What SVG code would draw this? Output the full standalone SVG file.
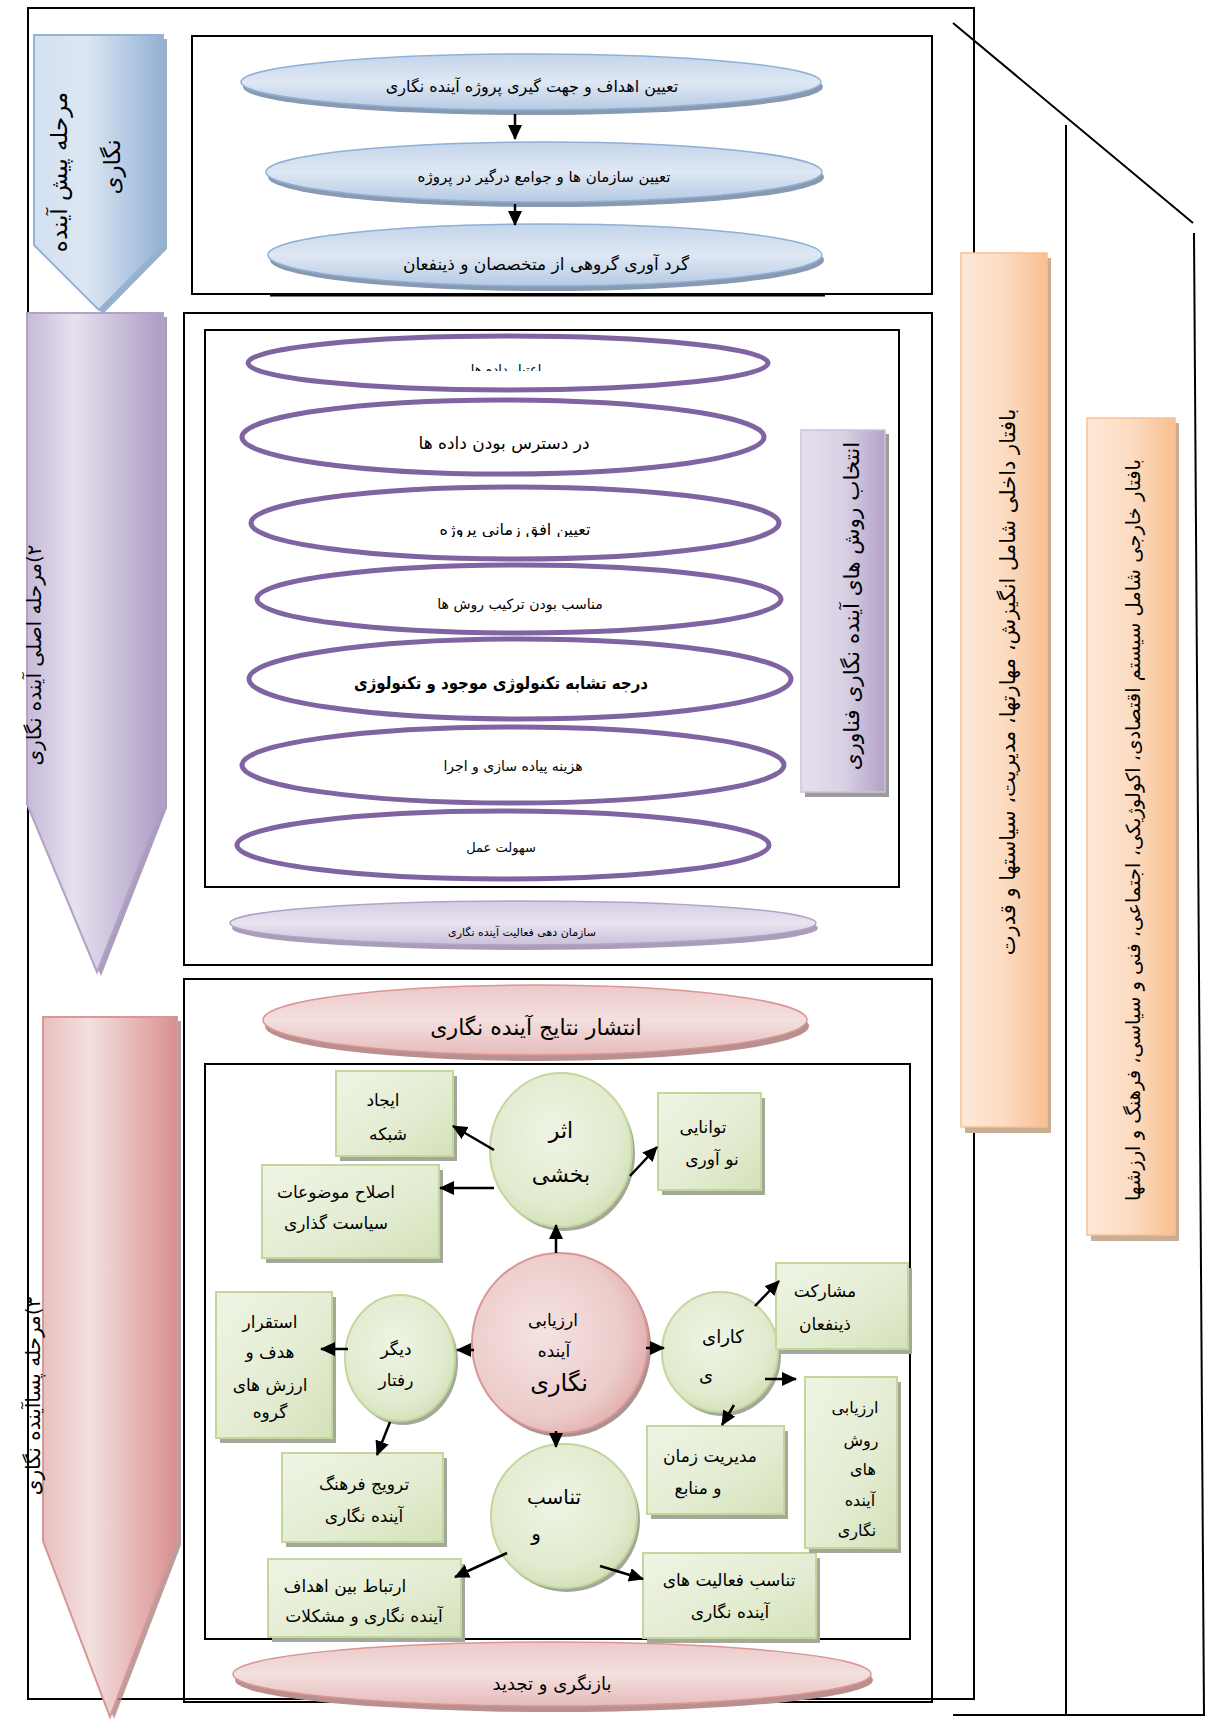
<svg xmlns="http://www.w3.org/2000/svg" width="1208" height="1719" viewBox="0 0 1208 1719">
<defs>
  <linearGradient id="gBlueArrow" x1="0" y1="0" x2="1" y2="0">
    <stop offset="0" stop-color="#d3e0f0"/><stop offset="0.4" stop-color="#dde7f3"/><stop offset="1" stop-color="#93b1d6"/>
  </linearGradient>
  <linearGradient id="gPurpleArrow" x1="0" y1="0" x2="1" y2="0">
    <stop offset="0" stop-color="#c6bad8"/><stop offset="0.35" stop-color="#e6e1ee"/><stop offset="1" stop-color="#ad9cc6"/>
  </linearGradient>
  <linearGradient id="gPinkArrow" x1="0" y1="0" x2="1" y2="0">
    <stop offset="0" stop-color="#e7c0bf"/><stop offset="0.35" stop-color="#f3e0df"/><stop offset="1" stop-color="#d8908e"/>
  </linearGradient>
  <linearGradient id="gBlueEll" x1="0" y1="0" x2="0" y2="1">
    <stop offset="0" stop-color="#c3d4ea"/><stop offset="0.5" stop-color="#dfe8f4"/><stop offset="1" stop-color="#b6cae3"/>
  </linearGradient>
  <linearGradient id="gPurpleEll" x1="0" y1="0" x2="0" y2="1">
    <stop offset="0" stop-color="#d5cce3"/><stop offset="0.5" stop-color="#e8e4ef"/><stop offset="1" stop-color="#cbc0da"/>
  </linearGradient>
  <linearGradient id="gPinkEll" x1="0" y1="0" x2="0" y2="1">
    <stop offset="0" stop-color="#ecc9c8"/><stop offset="0.5" stop-color="#f3e0df"/><stop offset="1" stop-color="#e6bbba"/>
  </linearGradient>
  <linearGradient id="gGreenBox" x1="0" y1="0" x2="1" y2="1">
    <stop offset="0" stop-color="#eef4e4"/><stop offset="0.55" stop-color="#e4edd3"/><stop offset="1" stop-color="#d3e1b8"/>
  </linearGradient>
  <radialGradient id="gGreenCirc" cx="0.45" cy="0.4" r="0.65">
    <stop offset="0" stop-color="#eef4e4"/><stop offset="0.7" stop-color="#e2ebcf"/><stop offset="1" stop-color="#d0dfb3"/>
  </radialGradient>
  <radialGradient id="gPinkCirc" cx="0.4" cy="0.45" r="0.65">
    <stop offset="0" stop-color="#f4e3e2"/><stop offset="0.7" stop-color="#ecccca"/><stop offset="1" stop-color="#e0aaa9"/>
  </radialGradient>
  <linearGradient id="gOrange" x1="0" y1="0" x2="1" y2="0">
    <stop offset="0" stop-color="#fde9d9"/><stop offset="0.5" stop-color="#fcdcc2"/><stop offset="1" stop-color="#f9bf8f"/>
  </linearGradient>
  <linearGradient id="gPurpleBox" x1="0" y1="0" x2="1" y2="0">
    <stop offset="0" stop-color="#e5e0ec"/><stop offset="0.5" stop-color="#d9d1e5"/><stop offset="1" stop-color="#b3a2c7"/>
  </linearGradient>
  <marker id="ah" markerUnits="userSpaceOnUse" markerWidth="15" markerHeight="14" refX="14" refY="7" orient="auto">
    <path d="M0,0 L15,7 L0,14 z" fill="#000"/>
  </marker>
  <clipPath id="clipP1"><rect x="200" y="330" width="700" height="41"/></clipPath>
  <clipPath id="clipP3"><rect x="200" y="500" width="700" height="37"/></clipPath>
</defs>
<style>
  .t{font-family:"DejaVu Sans",sans-serif;fill:#000;text-anchor:middle;direction:rtl}
  .frame{fill:none;stroke:#000;stroke-width:2}
  .line{stroke:#000;stroke-width:2;fill:none}
  .gbox{fill:url(#gGreenBox);stroke:#c3d69b;stroke-width:2}
  .gcirc{fill:url(#gGreenCirc);stroke:#c3d69b;stroke-width:2}
  .gsh{fill:#a3a89a}
  .pell{fill:#fff;stroke:#8064a2;stroke-width:5}
  .bell{fill:url(#gBlueEll);stroke:#8eb0d8;stroke-width:1.5}
  .bsh{fill:#8899b0}
  .orange{fill:url(#gOrange);stroke:#fac090;stroke-width:1.5}
  .osh{fill:#c9ae96}
  .conn{stroke:#000;stroke-width:2.5;fill:none;marker-end:url(#ah)}
</style>

<!-- frames -->
<g id="frames">
  <rect class="frame" x="28" y="8" width="946" height="1691"/>
  <line class="line" x1="28" y1="1081" x2="28" y2="1659" stroke-width="4"/>
  <rect class="frame" x="192" y="36" width="740" height="258"/>
  <line x1="270" y1="295" x2="825" y2="295" stroke="#000" stroke-width="3"/>
  <rect class="frame" x="184" y="313" width="748" height="652"/>
  <rect class="frame" x="205" y="330" width="694" height="557"/>
  <rect class="frame" x="184" y="979" width="748" height="723"/>
  <rect class="frame" x="205" y="1064" width="705" height="575"/>
  <line class="line" x1="1066" y1="125" x2="1066" y2="1715"/>
  <line class="line" x1="953" y1="1715" x2="1205" y2="1715"/>
  <line class="line" x1="1194" y1="233" x2="1204" y2="1715"/>
  <line class="line" x1="953" y1="23" x2="1193" y2="223"/>
</g>

<!-- phase arrows -->
<g id="phase-pre">
  <polygon points="38,39 167,39 167,249 103,314 38,249" fill="#7f9bbd" opacity="0.8"/>
  <polygon points="34,35 163,35 163,245 99,310 34,245" fill="url(#gBlueArrow)" stroke="#95b3d7" stroke-width="2"/>
  <text class="t" font-size="23" transform="translate(59,172) rotate(-90)" dominant-baseline="central">مرحله پیش آینده</text>
  <text class="t" font-size="23" transform="translate(112,167) rotate(-90)" dominant-baseline="central">نگاری</text>
</g>
<g id="phase-main">
  <polygon points="31,317 167,317 167,808 101,976 31,808" fill="#9586ab" opacity="0.8"/>
  <polygon points="27,313 163,313 163,804 97,972 27,804" fill="url(#gPurpleArrow)" stroke="#b3a2c7" stroke-width="2"/>
  <text class="t" font-size="20" transform="translate(34,655) rotate(-90)" dominant-baseline="central">۲)مرحله اصلی  آینده نگاری</text>
</g>
<g id="phase-post">
  <polygon points="47,1021 181,1021 181,1545 114,1719 47,1545" fill="#a98584" opacity="0.8"/>
  <polygon points="43,1017 177,1017 177,1541 110,1717 43,1541" fill="url(#gPinkArrow)" stroke="#d99694" stroke-width="2"/>
  <text class="t" font-size="20" transform="translate(33,1396) rotate(-90)" dominant-baseline="central">۳)مرحله پساآینده نگاری</text>
</g>

<!-- pre-phase ellipses -->
<g id="pre-1">
  <ellipse class="bsh" cx="533" cy="87" rx="290" ry="28"/>
  <ellipse class="bell" cx="531" cy="82" rx="290" ry="28"/>
  <text class="t" font-size="16" x="532" y="92">تعیین اهداف و جهت گیری پروژه آینده نگاری</text>
</g>
<g id="pre-2">
  <ellipse class="bsh" cx="546" cy="177" rx="278" ry="30"/>
  <ellipse class="bell" cx="544" cy="172" rx="278" ry="30"/>
  <text class="t" font-size="15" x="544" y="182">تعیین سازمان ها و جوامع درگیر در پروژه</text>
</g>
<g id="pre-3">
  <ellipse class="bsh" cx="547" cy="260" rx="277" ry="31"/>
  <ellipse class="bell" cx="545" cy="255" rx="277" ry="31"/>
  <text class="t" font-size="17" x="546" y="270">گرد آوری گروهی از متخصصان و ذینفعان</text>
</g>

<!-- main phase ellipses -->
<g id="main-1">
  <ellipse class="pell" cx="508" cy="363" rx="260" ry="27"/>
  <text class="t" font-size="13" x="506" y="374" clip-path="url(#clipP1)">اعتبار داده ها</text>
</g>
<g id="main-2">
  <ellipse class="pell" cx="503" cy="437" rx="261" ry="37"/>
  <text class="t" font-size="17" x="504" y="449">در دسترس بودن داده ها</text>
</g>
<g id="main-3">
  <ellipse class="pell" cx="515" cy="523" rx="264" ry="36"/>
  <text class="t" font-size="16" x="515" y="535" clip-path="url(#clipP3)">تعیین افق زمانی پروژه</text>
</g>
<g id="main-4">
  <ellipse class="pell" cx="519" cy="599" rx="262" ry="34"/>
  <text class="t" font-size="14" x="520" y="609">مناسب بودن ترکیب روش ها</text>
</g>
<g id="main-5">
  <ellipse class="pell" cx="520" cy="679" rx="271" ry="40"/>
  <text class="t" font-size="17" font-weight="bold" x="501" y="689" textLength="294" lengthAdjust="spacingAndGlyphs">درجه تشابه تکنولوژی موجود و تکنولوژی</text>
</g>
<g id="main-6">
  <ellipse class="pell" cx="513" cy="765" rx="271" ry="38"/>
  <text class="t" font-size="14" x="513" y="771">هزینه پیاده سازی و اجرا</text>
</g>
<g id="main-7">
  <ellipse class="pell" cx="503" cy="845" rx="266" ry="34"/>
  <text class="t" font-size="13" x="501" y="852">سهولت عمل</text>
</g>
<g id="main-select">
  <rect x="805" y="434" width="84" height="363" fill="#9c9c9c"/>
  <rect x="801" y="430" width="84" height="362" fill="url(#gPurpleBox)" stroke="#ccc1da" stroke-width="1.5"/>
  <text class="t" font-size="21.5" transform="translate(851,606) rotate(-90)" dominant-baseline="central">انتخاب روش های آینده نگاری فناوری</text>
</g>
<g id="main-organize">
  <ellipse cx="525" cy="928" rx="293" ry="22" fill="#a99db8"/>
  <ellipse cx="523" cy="923" rx="293" ry="22" fill="url(#gPurpleEll)" stroke="#b3a2c7" stroke-width="1.5"/>
  <text class="t" font-size="11" x="522" y="936">سازمان دهی فعالیت آینده نگاری</text>
</g>

<!-- post phase -->
<g id="post-publish">
  <ellipse cx="537" cy="1026" rx="272" ry="35" fill="#b9908f"/>
  <ellipse cx="535" cy="1020" rx="272" ry="35" fill="url(#gPinkEll)" stroke="#d99694" stroke-width="1.5"/>
  <text class="t" font-size="22" x="536" y="1035">انتشار نتایج آینده نگاری</text>
</g>
<g id="post-review">
  <ellipse cx="554" cy="1680" rx="319" ry="32" fill="#b9908f"/>
  <ellipse cx="552" cy="1674" rx="319" ry="32" fill="url(#gPinkEll)" stroke="#d99694" stroke-width="1.5"/>
  <text class="t" font-size="18" x="552" y="1690">بازنگری و تجدید</text>
</g>

<g id="node-effect">
  <ellipse class="gsh" cx="564" cy="1154" rx="71" ry="77"/>
  <ellipse class="gcirc" cx="561" cy="1150" rx="71" ry="77"/>
  <text class="t" font-size="22" x="561" y="1138">اثر</text>
  <text class="t" font-size="22" x="561" y="1182">بخشی</text>
</g>
<g id="node-network">
  <rect class="gsh" x="340" y="1076" width="117" height="85"/>
  <rect class="gbox" x="336" y="1071" width="117" height="85"/>
  <text class="t" font-size="17" x="383" y="1106">ایجاد</text>
  <text class="t" font-size="17" x="388" y="1140">شبکه</text>
</g>
<g id="node-policy">
  <rect class="gsh" x="266" y="1170" width="177" height="93"/>
  <rect class="gbox" x="262" y="1165" width="177" height="93"/>
  <text class="t" font-size="17" x="336" y="1198">اصلاح موضوعات</text>
  <text class="t" font-size="17" x="336" y="1229">سیاست گذاری</text>
</g>
<g id="node-innov">
  <rect class="gsh" x="662" y="1098" width="103" height="97"/>
  <rect class="gbox" x="658" y="1093" width="103" height="97"/>
  <text class="t" font-size="17" x="703" y="1133">توانایی</text>
  <text class="t" font-size="17" x="712" y="1165">نو آوری</text>
</g>
<g id="node-eval">
  <ellipse cx="563" cy="1347" rx="88" ry="90" fill="#a99290"/>
  <ellipse cx="560" cy="1343" rx="88" ry="90" fill="url(#gPinkCirc)" stroke="#d99694" stroke-width="2"/>
  <text class="t" font-size="17" x="553" y="1326">ارزیابی</text>
  <text class="t" font-size="17" x="554" y="1357">آینده</text>
  <text class="t" font-size="24" x="559" y="1391">نگاری</text>
</g>
<g id="node-behavior">
  <ellipse class="gsh" cx="403" cy="1362" rx="55" ry="63"/>
  <ellipse class="gcirc" cx="400" cy="1358" rx="55" ry="63"/>
  <text class="t" font-size="17" x="396" y="1355">دیگر</text>
  <text class="t" font-size="17" x="396" y="1386">رفتار</text>
</g>
<g id="node-goals">
  <rect class="gsh" x="220" y="1297" width="116" height="146"/>
  <rect class="gbox" x="216" y="1292" width="116" height="146"/>
  <text class="t" font-size="17" x="270" y="1328">استقرار</text>
  <text class="t" font-size="17" x="270" y="1358">هدف و</text>
  <text class="t" font-size="17" x="270" y="1391">ارزش های</text>
  <text class="t" font-size="17" x="270" y="1418">گروه</text>
</g>
<g id="node-culture">
  <rect class="gsh" x="286" y="1458" width="161" height="89"/>
  <rect class="gbox" x="282" y="1453" width="161" height="89"/>
  <text class="t" font-size="17" x="364" y="1490">ترویج فرهنگ</text>
  <text class="t" font-size="17" x="364" y="1522">آینده نگاری</text>
</g>
<g id="node-fit">
  <ellipse class="gsh" cx="567" cy="1520" rx="73" ry="72"/>
  <ellipse class="gcirc" cx="564" cy="1516" rx="73" ry="72"/>
  <text class="t" font-size="20" x="554" y="1504">تناسب</text>
  <text class="t" font-size="20" x="536" y="1540">و</text>
</g>
<g id="node-relation">
  <rect class="gsh" x="272" y="1564" width="193" height="78"/>
  <rect class="gbox" x="268" y="1559" width="193" height="78"/>
  <text class="t" font-size="17" x="345" y="1592">ارتباط بین اهداف</text>
  <text class="t" font-size="17" x="364" y="1622">آینده نگاری و مشکلات</text>
</g>
<g id="node-activity">
  <rect class="gsh" x="647" y="1558" width="173" height="85"/>
  <rect class="gbox" x="643" y="1553" width="173" height="85"/>
  <text class="t" font-size="17" x="729" y="1586">تناسب فعالیت های</text>
  <text class="t" font-size="17" x="730" y="1618">آینده نگاری</text>
</g>
<g id="node-efficiency">
  <ellipse class="gsh" cx="723" cy="1356" rx="58" ry="60"/>
  <ellipse class="gcirc" cx="720" cy="1352" rx="58" ry="60"/>
  <text class="t" font-size="18" x="723" y="1343">کارای</text>
  <text class="t" font-size="18" x="706" y="1381">ی</text>
</g>
<g id="node-stakeholders">
  <rect class="gsh" x="780" y="1268" width="132" height="86"/>
  <rect class="gbox" x="776" y="1263" width="132" height="86"/>
  <text class="t" font-size="17" x="825" y="1297">مشارکت</text>
  <text class="t" font-size="17" x="825" y="1330">ذینفعان</text>
</g>
<g id="node-methods">
  <rect class="gsh" x="809" y="1382" width="92" height="171"/>
  <rect class="gbox" x="805" y="1377" width="92" height="171"/>
  <text class="t" font-size="16" x="855" y="1413">ارزیابی</text>
  <text class="t" font-size="16" x="861" y="1446">روش</text>
  <text class="t" font-size="16" x="863" y="1475">های</text>
  <text class="t" font-size="16" x="860" y="1506">آینده</text>
  <text class="t" font-size="16" x="857" y="1536">نگاری</text>
</g>
<g id="node-time">
  <rect class="gsh" x="651" y="1431" width="137" height="88"/>
  <rect class="gbox" x="647" y="1426" width="137" height="88"/>
  <text class="t" font-size="17" x="710" y="1462">مدیریت زمان</text>
  <text class="t" font-size="17" x="698" y="1494">و منابع</text>
</g>

<!-- context boxes -->
<g id="context-internal">
  <rect class="osh" x="965" y="258" width="86" height="875"/>
  <rect class="orange" x="961" y="253" width="86" height="874"/>
  <text class="t" font-size="21" transform="translate(1008,682) rotate(-90)" dominant-baseline="central">بافتار داخلی شامل انگیزش، مهارتها، مدیریت، سیاستها و قدرت</text>
</g>
<g id="context-external">
  <rect class="osh" x="1091" y="423" width="88" height="818"/>
  <rect class="orange" x="1087" y="418" width="88" height="817"/>
  <text class="t" font-size="19.5" transform="translate(1133,830) rotate(-90)" dominant-baseline="central">بافتار خارجی شامل سیستم اقتصادی، اکولوژیکی، اجتماعی، فنی و سیاسی، فرهنگ و ارزشها</text>
</g>

<!-- connectors -->
<g id="connectors">
  <line class="conn" x1="515" y1="114" x2="515" y2="139"/>
  <line class="conn" x1="515" y1="204" x2="515" y2="225"/>
  <line class="conn" x1="494" y1="1150" x2="453" y2="1126"/>
  <line class="conn" x1="494" y1="1188" x2="440" y2="1188"/>
  <line class="conn" x1="630" y1="1176" x2="657" y2="1147"/>
  <line class="conn" x1="556" y1="1253" x2="556" y2="1225"/>
  <line class="conn" x1="474" y1="1350" x2="457" y2="1350"/>
  <line class="conn" x1="348" y1="1349" x2="321" y2="1349"/>
  <line class="conn" x1="390" y1="1422" x2="377" y2="1455"/>
  <line class="conn" x1="556" y1="1431" x2="556" y2="1447"/>
  <line class="conn" x1="507" y1="1553" x2="455" y2="1577"/>
  <line class="conn" x1="600" y1="1566" x2="643" y2="1579"/>
  <line class="conn" x1="646" y1="1348" x2="664" y2="1348"/>
  <line class="conn" x1="755" y1="1306" x2="779" y2="1281"/>
  <line class="conn" x1="765" y1="1379" x2="796" y2="1379"/>
  <line class="conn" x1="734" y1="1405" x2="722" y2="1425"/>
</g>
</svg>
